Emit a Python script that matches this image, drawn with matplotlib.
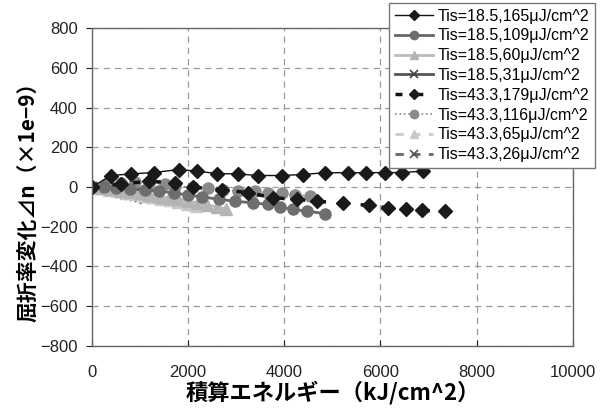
import numpy as np
import matplotlib
matplotlib.use('Agg')
import matplotlib.pyplot as plt

plt.rcParams['font.family'] = ['Liberation Sans', 'DejaVu Sans']

# Tis=18.5,165
x1 = [0, 410, 820, 1290, 1810, 2180, 2600, 3030, 3450, 3950, 4380, 4850, 5320, 5700, 6090, 6440, 6880]
y1 = [0, 58, 66, 73, 88, 80, 68, 66, 58, 58, 63, 72, 72, 72, 73, 73, 80]
# Tis=18.5,109
x2 = [0, 250, 500, 800, 1100, 1400, 1700, 2000, 2300, 2650, 2980, 3360, 3670, 3910, 4180, 4470, 4850]
y2 = [0, -2, -5, -10, -15, -20, -30, -40, -50, -62, -72, -80, -88, -100, -113, -122, -134]
# Tis=18.5,60
x3 = [0, 200, 400, 600, 800, 1000, 1200, 1400, 1600, 1800, 2000, 2200, 2400, 2600, 2800]
y3 = [0, -5, -10, -18, -25, -32, -40, -48, -55, -62, -70, -80, -90, -100, -112]
# Tis=18.5,31
x4 = [0, 100, 200, 300, 400, 500, 600, 700, 800, 900, 1000, 1100, 1200, 1300]
y4 = [0, -2, -5, -8, -10, -13, -16, -20, -23, -26, -30, -33, -37, -40]
# Tis=43.3,179
x5 = [0, 600, 1180, 1730, 2110, 2700, 3250, 3770, 4260, 4690, 5230, 5770, 6150, 6530, 6860, 7340]
y5 = [0, 15, 29, 21, -1, -13, -29, -54, -63, -72, -82, -93, -105, -110, -118, -122]
# Tis=43.3,116
x6 = [0, 300, 600, 900, 1200, 1520, 1730, 2100, 2420, 2730, 3040, 3390, 3660, 3950, 4220, 4530]
y6 = [0, 15, 22, 25, 20, 15, 5, -2, -5, -13, -21, -22, -29, -30, -38, -46]
# Tis=43.3,65
x7 = [0, 180, 360, 540, 720, 900, 1080, 1260, 1440, 1620, 1800, 1980, 2160]
y7 = [0, -6, -13, -20, -28, -36, -44, -52, -60, -68, -77, -86, -95]
# Tis=43.3,26
x8 = [0, 100, 200, 300, 400, 500, 600, 700, 800, 900, 1000, 1100]
y8 = [0, -5, -10, -15, -20, -25, -30, -35, -40, -46, -52, -58]

labels = ['Tis=18.5,165μJ/cm^2', 'Tis=18.5,109μJ/cm^2', 'Tis=18.5,60μJ/cm^2',
          'Tis=18.5,31μJ/cm^2', 'Tis=43.3,179μJ/cm^2', 'Tis=43.3,116μJ/cm^2',
          'Tis=43.3,65μJ/cm^2', 'Tis=43.3,26μJ/cm^2']

fig = plt.figure(figsize=(6.01, 4.11), dpi=100)
ax = fig.add_axes([0.1526, 0.159, 0.8008, 0.772])

ax.plot(x8, y8, ls=(0, (3, 3)), color='#666666', lw=2, marker='x', ms=7, mew=1.2, mec='#555555')
ax.plot(x4, y4, ls='-', color='#555555', lw=2, marker='x', ms=7, mew=1.2, mec='#444444')
ax.plot(x7, y7, ls=(0, (3, 3)), color='#cccccc', lw=2, marker='^', ms=8, mfc='#c8c8c8', mec='#c8c8c8')
ax.plot(x3, y3, ls='-', color='#bbbbbb', lw=2, marker='^', ms=8, mfc='#b4b4b4', mec='#b4b4b4')
ax.plot(x6, y6, ls=':', color='#888888', lw=1.2, marker='o', ms=8, mfc='#8a8a8a', mec='#8a8a8a')
ax.plot(x2, y2, ls='-', color='#666666', lw=2, marker='o', ms=8, mfc='#6e6e6e', mec='#6e6e6e')
ax.plot(x5, y5, ls=(0, (2, 4)), color='#111111', lw=2.5, marker='D', ms=7, mfc='#1a1a1a', mec='#1a1a1a')
ax.plot(x1, y1, ls='-', color='#111111', lw=1, marker='D', ms=7, mfc='#1a1a1a', mec='#1a1a1a')

ax.set_xlim(0, 10000)
ax.set_ylim(-800, 800)
ax.set_xticks(np.arange(0, 10001, 2000))
ax.set_yticks(np.arange(-800, 801, 200))
ax.grid(True, ls=(0, (5, 4)), color='#999999', lw=0.9)
for s in ax.spines.values():
    s.set_color('#666666')
    s.set_linewidth(1)
ax.tick_params(axis='x', direction='in', length=4, pad=14, labelsize=12, colors='#222222')
ax.tick_params(axis='y', direction='out', length=4, pad=6, labelsize=12, colors='#222222')
for t in ax.get_xticklines() + ax.get_yticklines():
    t.set_color('#666666')

cjk = ['Noto Sans CJK JP', 'DejaVu Sans']
ax.set_xlabel('積算エネルギー（kJ/cm^2）', family=cjk, fontsize=16, fontweight='bold')
ax.set_ylabel('屈折率変化⊿n（×1e−9）', family=cjk, fontsize=15, fontweight='bold')
ax.xaxis.set_label_coords(0.5, -0.11)
ax.yaxis.set_label_coords(-0.11, 0.47)

# legend order as in picture
h = ax.get_lines()
order = [7, 5, 3, 1, 6, 4, 2, 0]
leg = ax.legend([h[i] for i in order], labels, loc='upper right',
                bbox_to_anchor=(595 / 601, 1 - 3 / 411), bbox_transform=fig.transFigure,
                fontsize=11.5, handlelength=2.4, handletextpad=0.3, labelspacing=0.3,
                markerscale=0.75, borderpad=0.35, borderaxespad=0, fancybox=False,
                framealpha=1, edgecolor='#777777')
leg.get_frame().set_linewidth(1)

fig.savefig('out.png', dpi=100)
